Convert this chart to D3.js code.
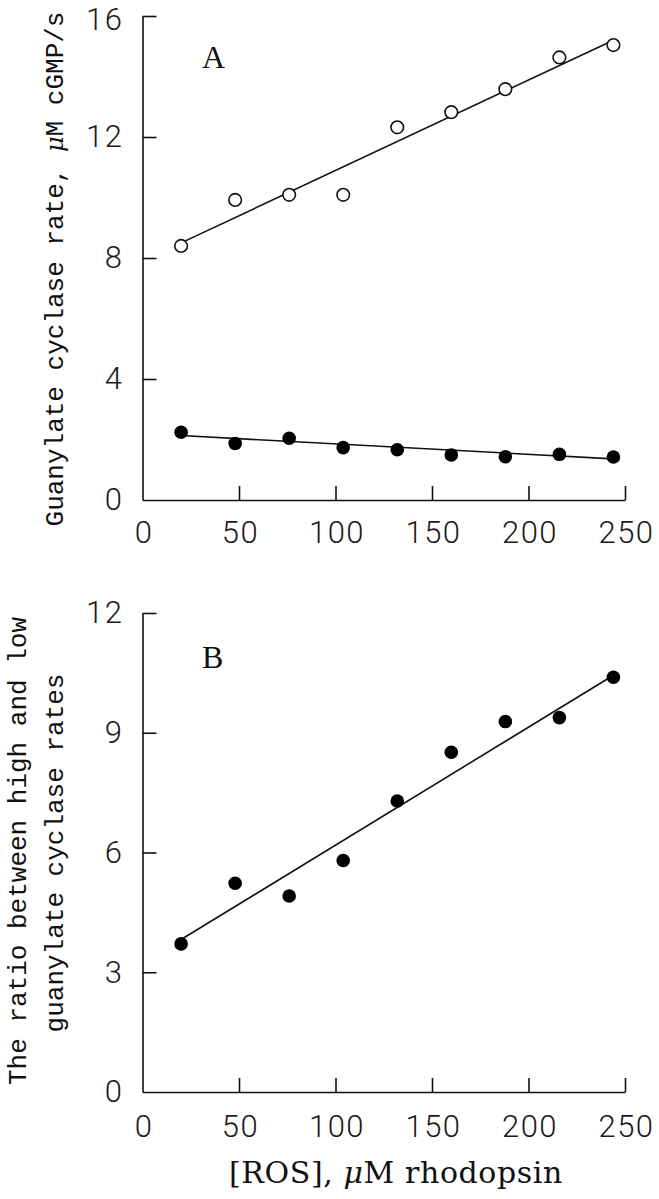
<!DOCTYPE html>
<html>
<head>
<meta charset="utf-8">
<script src="https://cdn.jsdelivr.net/npm/d3@7"></script>
<style>
html,body{margin:0;padding:0;background:#fff;}
svg{display:block;}
.tick text{font-family:Roboto,"Liberation Sans",Arial,sans-serif;font-weight:300;font-size:31px;letter-spacing:1.5px;fill:#1a1a1a;}
</style>
</head>
<body>
<svg id="chart" width="659" height="1199"></svg>
<script>
// ---- data ----
const rosX = [20, 48, 76, 104, 132, 160, 188, 216, 244];
const highRate = [8.40, 9.92, 10.09, 10.09, 12.32, 12.82, 13.58, 14.63, 15.04];
const lowRate = [2.24, 1.87, 2.04, 1.73, 1.66, 1.49, 1.43, 1.51, 1.42];
const ratio = [3.71, 5.23, 4.91, 5.80, 7.29, 8.51, 9.28, 9.38, 10.39];
const fitX = [20, 244];
const fitHigh = [8.50, 15.20];
const fitLow = [2.13, 1.36];
const fitRatio = [3.82, 10.44];
const xTicks = [0, 50, 100, 150, 200, 250];
const yTicksA = [0, 4, 8, 12, 16];
const yTicksB = [0, 3, 6, 9, 12];

const svg = d3.select("#chart");
const x = d3.scaleLinear().domain([0, 250]).range([142.5, 625]);
const yA = d3.scaleLinear().domain([0, 16]).range([500, 16]);
const yB = d3.scaleLinear().domain([0, 12]).range([1092, 613]);

function drawAxes(y, yTicks, labelDy) {
  const gx = svg.append("g").attr("transform", `translate(0,${y.range()[0]})`)
    .call(d3.axisBottom(x).tickValues(xTicks).tickFormat(d3.format("d"))
      .tickSizeInner(-14).tickSizeOuter(0).tickPadding(labelDy));
  const gy = svg.append("g").attr("transform", `translate(${x.range()[0]},0)`)
    .call(d3.axisLeft(y).tickValues(yTicks).tickFormat(d3.format("d"))
      .tickSizeInner(-14).tickSizeOuter(0).tickPadding(19));
  [gx, gy].forEach(g => {
    g.select(".domain").attr("stroke", "#111").attr("stroke-width", 1.6);
    g.selectAll(".tick line").attr("stroke", "#111").attr("stroke-width", 1.6);
    g.attr("font-family", null).attr("font-size", null);
  });
  gx.selectAll(".tick text").attr("dx", "1px");
  gx.selectAll(".tick").filter(d => d === 0).select("line").remove();
  gy.selectAll(".tick").filter(d => d === 0).select("line").remove();
  return gy;
}

const gyA = drawAxes(yA, yTicksA, 21);
drawAxes(yB, yTicksB, 23);
// keep the top label of panel A inside the picture
gyA.selectAll(".tick").filter(d => d === 16).select("text").attr("y", 4);

const line = (yScale) => d3.line().x(d => x(d[0])).y(d => yScale(d[1]));

// fitted lines
svg.append("path").datum(fitX.map((v, i) => [v, fitHigh[i]]))
  .attr("d", line(yA)).attr("fill", "none").attr("stroke", "#111").attr("stroke-width", 1.6);
svg.append("path").datum(fitX.map((v, i) => [v, fitLow[i]]))
  .attr("d", line(yA)).attr("fill", "none").attr("stroke", "#111").attr("stroke-width", 1.6);
svg.append("path").datum(fitX.map((v, i) => [v, fitRatio[i]]))
  .attr("d", line(yB)).attr("fill", "none").attr("stroke", "#111").attr("stroke-width", 1.6);

// markers
svg.append("g").selectAll("circle").data(rosX.map((v, i) => [v, highRate[i]])).join("circle")
  .attr("cx", d => x(d[0])).attr("cy", d => yA(d[1])).attr("r", 6.3)
  .attr("fill", "#fff").attr("stroke", "#111").attr("stroke-width", 1.6);
svg.append("g").selectAll("circle").data(rosX.map((v, i) => [v, lowRate[i]])).join("circle")
  .attr("cx", d => x(d[0])).attr("cy", d => yA(d[1])).attr("r", 6.8).attr("fill", "#000");
svg.append("g").selectAll("circle").data(rosX.map((v, i) => [v, ratio[i]])).join("circle")
  .attr("cx", d => x(d[0])).attr("cy", d => yB(d[1])).attr("r", 6.8).attr("fill", "#000");

// panel letters
svg.append("text").attr("x", 202).attr("y", 68).text("A")
  .attr("font-family", "Liberation Serif, Times New Roman, serif").attr("font-size", 32).attr("fill", "#111");
svg.append("text").attr("x", 202).attr("y", 668).text("B")
  .attr("font-family", "Liberation Serif, Times New Roman, serif").attr("font-size", 32).attr("fill", "#111");

// y titles
function rotTitle(cx, cy, parts) {
  const t = svg.append("text").attr("transform", `translate(${cx},${cy}) rotate(-90)`)
    .attr("text-anchor", "middle").attr("font-family", "Liberation Mono, Courier New, monospace")
    .attr("font-size", 26).attr("fill", "#111");
  parts.forEach(p => {
    const s = t.append("tspan").text(p.t);
    if (p.mu) s.attr("font-style", "italic").attr("font-family", "DejaVu Serif, serif").attr("font-size", 24);
  });
}
rotTitle(63, 269, [{t: "Guanylate cyclase rate, "}, {t: "μ", mu: true}, {t: "M cGMP/s"}]);
rotTitle(26, 851, [{t: "The ratio between high and low"}]);
rotTitle(63, 853, [{t: "guanylate cyclase rates"}]);

// x title
const xt = svg.append("text").attr("x", 396).attr("y", 1183).attr("text-anchor", "middle")
  .attr("font-family", "DejaVu Serif, serif").attr("font-size", 30).attr("letter-spacing", 0.6).attr("fill", "#111");
xt.append("tspan").text("[ROS], ");
xt.append("tspan").text("μ").attr("font-style", "italic");
xt.append("tspan").text("M rhodopsin");
</script>
</body>
</html>
